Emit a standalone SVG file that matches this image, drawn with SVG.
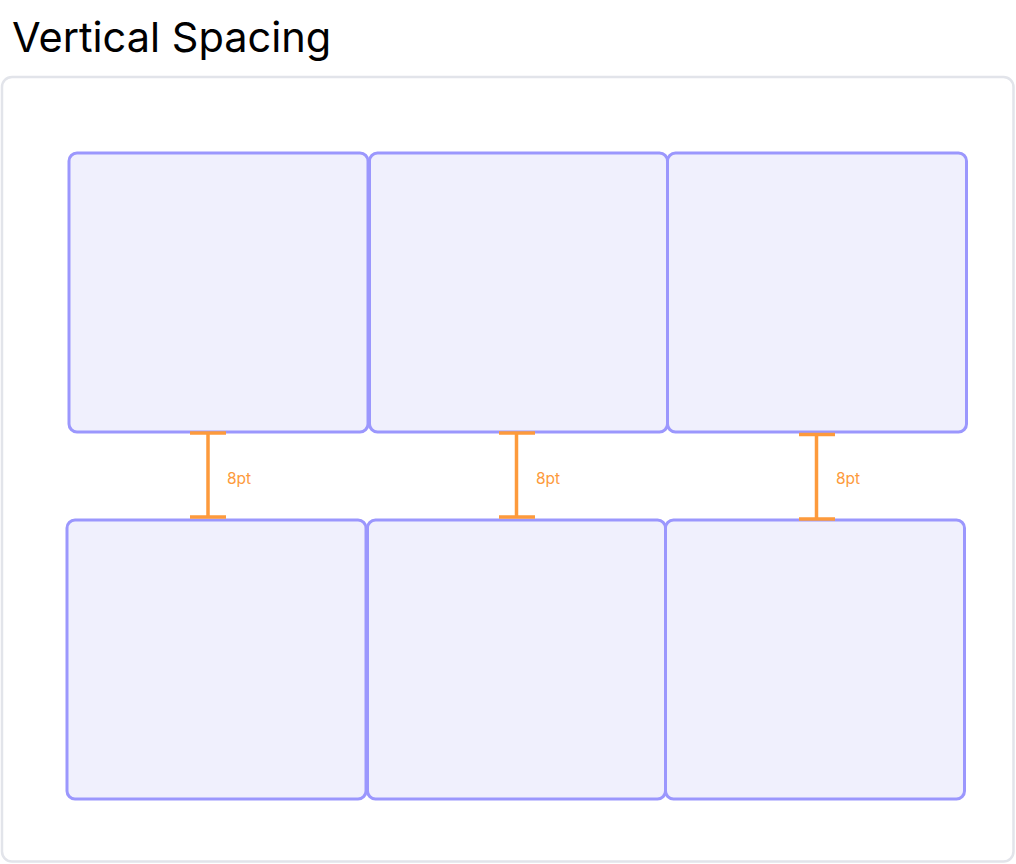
<svg xmlns="http://www.w3.org/2000/svg" width="1016" height="864" viewBox="0 0 1016 864">
<style>
.frame{fill:#ffffff;stroke:#e2e4ea;stroke-width:2.5}
.box{fill:#f0f0fd;stroke:#9b97fd;stroke-width:3}
.dim{stroke:#fd9a3c;stroke-width:3.5;fill:none}
.lbl{font-family:Inter,"Liberation Sans",sans-serif;font-size:15.5px;fill:#fd9a3c}
.title{font-family:Inter,"Liberation Sans",sans-serif;font-size:41.5px;fill:#000000}
</style>
<rect width="1016" height="864" fill="#ffffff"/>
<text class="title" x="12" y="52">Vertical Spacing</text>
<rect class="frame" x="2" y="77" width="1011.5" height="784.5" rx="10"/>
<g id="top-1"><rect class="box" x="69" y="153" width="299" height="279" rx="8"/></g>
<g id="top-2"><rect class="box" x="369.5" y="153" width="298" height="279" rx="8"/></g>
<g id="top-3"><rect class="box" x="667.5" y="153" width="299" height="279" rx="8"/></g>
<g id="bottom-1"><rect class="box" x="67" y="520" width="299" height="279" rx="8"/></g>
<g id="bottom-2"><rect class="box" x="367.5" y="520" width="298" height="279" rx="8"/></g>
<g id="bottom-3"><rect class="box" x="665.5" y="520" width="299" height="279" rx="8"/></g>
<g id="connectors">
<path class="dim" d="M208 433V517M190 433H226M190 517H226"/>
<text class="lbl" x="227" y="484">8pt</text>
<path class="dim" d="M516.5 433V517M499 433H535M499 517H535"/>
<text class="lbl" x="536" y="484">8pt</text>
<path class="dim" d="M816.5 434V519M799 434.5H835M799 519H835"/>
<text class="lbl" x="836" y="484">8pt</text>
</g>
</svg>
